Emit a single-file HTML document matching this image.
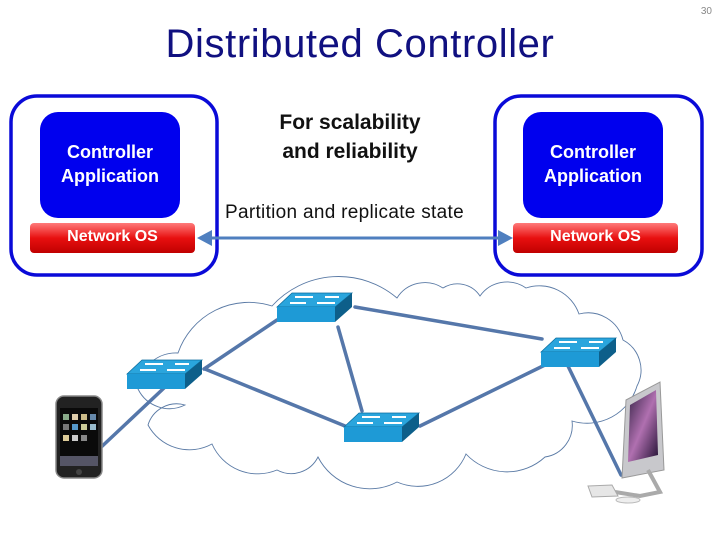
<!DOCTYPE html>
<html><head><meta charset="utf-8"><style>
body{margin:0;width:720px;height:540px;background:#fff;overflow:hidden;position:relative;font-family:"Liberation Sans",sans-serif}
.t{position:absolute}
</style></head><body>
<svg width="720" height="540" style="position:absolute;left:0;top:0">
<defs>
<linearGradient id="rg" x1="0" y1="0" x2="0" y2="1"><stop offset="0" stop-color="#ff7a7a"/><stop offset="0.5" stop-color="#e81010"/><stop offset="1" stop-color="#c00000"/></linearGradient>
<linearGradient id="scr" x1="0" y1="0" x2="1" y2="1"><stop offset="0" stop-color="#332244"/><stop offset="0.5" stop-color="#b070b0"/><stop offset="1" stop-color="#221133"/></linearGradient>
<g id="sw">
<polygon points="0,16 15,2 75,2 58,16" fill="#2aa5dd" stroke="#0d6fa0" stroke-width="0.8"/>
<polygon points="58,16 75,2 75,16 58,31" fill="#0d5f8a"/>
<rect x="0" y="16" width="58" height="15" fill="#1e9ad6"/>
<path d="M18 6 h18 M48 6 h14 M13 12 h16 M40 12 h18" stroke="#fff" stroke-width="2"/>
</g>
</defs>
<text x="712" y="14" font-size="10" fill="#888" text-anchor="end" font-family="Liberation Sans">30</text>
<rect x="11" y="96" width="206" height="179" rx="26" fill="#fff" stroke="#0a0ad8" stroke-width="3.5"/>
<rect x="40" y="112" width="140" height="106" rx="18" fill="#0000ee"/>
<rect x="30" y="223" width="165" height="30" rx="4" fill="url(#rg)"/>
<rect x="495" y="96" width="207" height="179" rx="26" fill="#fff" stroke="#0a0ad8" stroke-width="3.5"/>
<rect x="523" y="112" width="140" height="106" rx="18" fill="#0000ee"/>
<rect x="513" y="223" width="165" height="30" rx="4" fill="url(#rg)"/>
<line x1="206" y1="238" x2="504" y2="238" stroke="#4f7fbf" stroke-width="3"/>
<polygon points="197,238 212,230 212,246" fill="#4f7fbf"/>
<polygon points="513,238 498,230 498,246" fill="#4f7fbf"/>
<path d="M178 353 A75 75 0 0 1 272 306 A90 90 0 0 1 397 298 A33 33 0 0 1 443 288 A27 27 0 0 1 480 296 A33 33 0 0 1 526 288 A42 42 0 0 1 579 314 A36 36 0 0 1 623 340 A34 34 0 0 1 637 386 A52 52 0 0 1 572 421 A32 32 0 0 1 545 457 A56 56 0 0 1 466 454 A52 52 0 0 1 397 482 A58 58 0 0 1 318 457 A30 30 0 0 1 277 470 A50 50 0 0 1 212 444 A47 47 0 0 1 148 425 A30 30 0 0 1 185 405 A35 35 0 0 1 138 389 A38 38 0 0 1 178 353 Z" fill="#fff" stroke="#5a7aa5" stroke-width="0.9"/>
<g stroke="#5577aa" stroke-width="3.5" stroke-linecap="round">
<line x1="204" y1="369" x2="277" y2="320"/>
<line x1="205" y1="369" x2="345" y2="426"/>
<line x1="338" y1="327" x2="362" y2="411"/>
<line x1="355" y1="307" x2="542" y2="339"/>
<line x1="420" y1="426" x2="547" y2="364"/>
<line x1="164" y1="388" x2="97" y2="451"/>
<line x1="567" y1="364" x2="621" y2="475"/>
</g>
<use href="#sw" x="277" y="291"/>
<use href="#sw" x="127" y="358"/>
<use href="#sw" x="344" y="411"/>
<use href="#sw" x="541" y="336"/>
<rect x="56" y="396" width="46" height="82" rx="8" fill="#222" stroke="#888" stroke-width="1.5"/>
<rect x="60" y="408" width="38" height="58" fill="#0a0a0a"/>
<g fill="#8a8"><rect x="63" y="414" width="6" height="6"/><rect x="72" y="414" width="6" height="6" fill="#dca"/><rect x="81" y="414" width="6" height="6" fill="#cb8"/><rect x="90" y="414" width="6" height="6" fill="#68a"/>
<rect x="63" y="424" width="6" height="6" fill="#777"/><rect x="72" y="424" width="6" height="6" fill="#59c"/><rect x="81" y="424" width="6" height="6" fill="#cc9"/><rect x="90" y="424" width="6" height="6" fill="#9bc"/>
<rect x="63" y="435" width="6" height="6" fill="#dc9"/><rect x="72" y="435" width="6" height="6" fill="#ccc"/><rect x="81" y="435" width="6" height="6" fill="#888"/>
<rect x="60" y="456" width="38" height="10" fill="#556"/></g>
<circle cx="79" cy="472" r="3" fill="#444"/>
<path d="M626 400 L660 382 L664 470 L622 478 Z" fill="#c8c8cc" stroke="#999"/>
<path d="M630 405 L656 390 L658 455 L628 462 Z" fill="url(#scr)"/>
<path d="M648 470 L660 492 L640 496 L615 492" fill="none" stroke="#aaa" stroke-width="4"/>
<polygon points="588,486 612,485 618,496 592,497" fill="#e6e6e6" stroke="#aaa"/>
<ellipse cx="628" cy="500" rx="12" ry="3" fill="#eee" stroke="#bbb"/>
</svg>
<div class="t" style="left:0;width:720px;top:22px;text-align:center;font-size:40px;color:#101080;letter-spacing:0.6px">Distributed Controller</div>
<div class="t" style="left:40px;width:140px;top:140px;text-align:center;color:#fff;font-weight:bold;font-size:18px;line-height:24px">Controller<br>Application</div>
<div class="t" style="left:523px;width:140px;top:140px;text-align:center;color:#fff;font-weight:bold;font-size:18px;line-height:24px">Controller<br>Application</div>
<div class="t" style="left:30px;width:165px;top:228px;text-align:center;color:#fff;font-size:16px;font-weight:bold">Network OS</div>
<div class="t" style="left:513px;width:165px;top:228px;text-align:center;color:#fff;font-size:16px;font-weight:bold">Network OS</div>
<div class="t" style="left:220px;width:260px;top:108px;text-align:center;font-size:21px;font-weight:bold;line-height:29px;color:#111">For scalability<br>and reliability</div>
<div class="t" style="left:225px;top:202px;font-size:19px;color:#111;letter-spacing:0.3px">Partition and replicate state</div>
</body></html>
